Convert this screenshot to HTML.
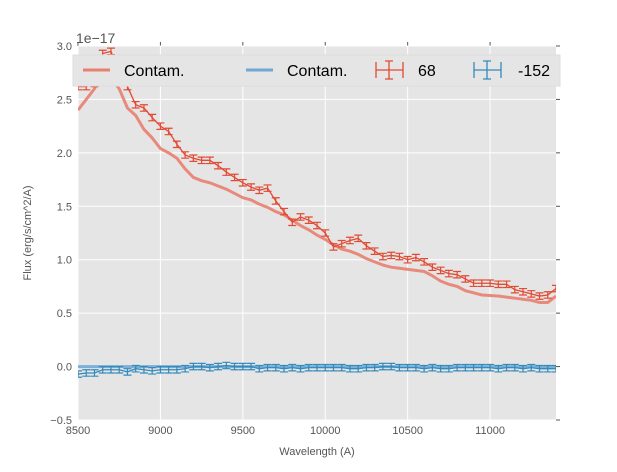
<!DOCTYPE html>
<html><head><meta charset="utf-8"><style>
body{margin:0;background:#fff;}
svg{font-family:"Liberation Sans","DejaVu Sans",sans-serif;}
</style></head><body>
<svg id="c" width="617" height="467"></svg>
<script>
const wave=[8500,8550,8600,8650,8700,8750,8800,8850,8900,8950,9000,9050,9100,9150,9200,9250,9300,9350,9400,9450,9500,9550,9600,9650,9700,9750,9800,9850,9900,9950,10000,10050,10100,10150,10200,10250,10300,10350,10400,10450,10500,10550,10600,10650,10700,10750,10800,10850,10900,10950,11000,11050,11100,11150,11200,11250,11300,11350,11400];
const flux68=[2.62,2.62,2.65,2.93,2.95,2.75,2.62,2.45,2.42,2.33,2.25,2.2,2.08,1.98,1.95,1.93,1.93,1.88,1.82,1.77,1.72,1.68,1.65,1.67,1.55,1.45,1.35,1.4,1.37,1.32,1.25,1.12,1.15,1.18,1.2,1.13,1.08,1.03,1.04,1.03,1.0,1.02,0.98,0.93,0.9,0.87,0.86,0.82,0.78,0.78,0.78,0.77,0.77,0.72,0.7,0.68,0.66,0.67,0.73];
const contam68=[2.4,2.5,2.6,2.75,2.7,2.6,2.42,2.35,2.22,2.14,2.04,2.0,1.95,1.85,1.77,1.74,1.72,1.69,1.66,1.62,1.58,1.56,1.52,1.49,1.45,1.42,1.37,1.32,1.28,1.23,1.19,1.14,1.1,1.08,1.05,1.01,0.98,0.95,0.93,0.92,0.91,0.9,0.89,0.85,0.8,0.77,0.75,0.71,0.69,0.67,0.665,0.66,0.65,0.64,0.63,0.62,0.6,0.6,0.66];
const flux152=[-0.07,-0.06,-0.06,-0.03,-0.03,-0.03,-0.05,-0.02,-0.03,-0.04,-0.03,-0.03,-0.03,-0.02,0.0,0.0,-0.01,0.0,0.01,0.0,0.0,0.0,-0.02,-0.01,-0.01,-0.02,-0.01,-0.02,-0.01,-0.01,-0.01,-0.01,-0.01,-0.02,-0.02,-0.01,-0.01,0.0,0.0,-0.01,-0.01,-0.01,-0.02,-0.01,-0.02,-0.02,-0.01,-0.01,-0.01,-0.01,-0.01,-0.02,-0.01,-0.01,-0.02,-0.01,-0.02,-0.02,-0.02];
const contam152=wave.map(()=>0);
const err=[0.03];
const xTicks=[8500,9000,9500,10000,10500,11000];
const yTicks=[-0.5,0,0.5,1,1.5,2,2.5,3];
const yLabels=["−0.5","0.0","0.5","1.0","1.5","2.0","2.5","3.0"];
const L=78,R=556,T=46,B=420;
const X=v=>L+(v-8500)/(11400-8500)*(R-L);
const Y=v=>T+(3-v)/3.5*(B-T);
const svg=document.getElementById('c');const NS='http://www.w3.org/2000/svg';
function mk(t,a,p){const e=document.createElementNS(NS,t);for(const k in a)e.setAttribute(k,a[k]);(p||svg).appendChild(e);return e;}
let e=mk('rect',{x:L,y:T,width:R-L,height:B-T,fill:'#e5e5e5'});


xTicks.forEach(v=>{mk('line',{x1:X(v),x2:X(v),y1:T,y2:B,stroke:'#fff','stroke-width':1});
 mk('line',{x1:X(v),x2:X(v),y1:T-4,y2:T,stroke:'#555'});
 const t=mk('text',{x:X(v),y:B+14,'text-anchor':'middle','font-size':11,fill:'#555'});t.textContent=v;
 
 });
yTicks.forEach((v,i)=>{mk('line',{x1:L,x2:R,y1:Y(v),y2:Y(v),stroke:'#fff','stroke-width':1});
 mk('line',{x1:R,x2:R+4,y1:Y(v),y2:Y(v),stroke:'#555'});
 const t=mk('text',{x:L-6,y:Y(v)+4,'text-anchor':'end','font-size':11,fill:'#555'});t.textContent=yLabels[i];
 
 });
const g=mk('g',{'clip-path':'url(#cp)'});
const cp=mk('clipPath',{id:'cp'});mk('rect',{x:L,y:T,width:R-L,height:B-T},cp);
function line(vals,col,w,op,name){const p=mk('polyline',{points:wave.map((w2,i)=>X(w2)+','+Y(vals[i])).join(' '),fill:'none',stroke:col,'stroke-width':w,'stroke-opacity':op},g);
 
 }
function ebars(vals,col,name){line(vals,col,1.3,1,name+'-line');
 wave.forEach((w2,i)=>{const x=X(w2),y1=Y(vals[i]+err[0]),y2=Y(vals[i]-err[0]);
  const b=mk('path',{d:`M${x},${y1}V${y2}M${x-4},${y1}H${x+4}M${x-4},${y2}H${x+4}`,stroke:col,'stroke-width':1.2,fill:'none'},g);
  
  });}
line(contam68,'#e8806f',3,0.9,'contam-68-line');
line(contam152,'#6fa8d0',3,0.9,'contam-152-line');
ebars(flux68,'#e24a33','spectrum-68');
ebars(flux152,'#348abd','spectrum-152');
// legend
const lg=mk('g',{});
mk('rect',{x:73,y:55,width:487,height:31,fill:'#e5e5e5',stroke:'#ddd'},lg);
mk('line',{x1:83,x2:110,y1:70,y2:70,stroke:'#e8806f','stroke-width':3},lg);
mk('line',{x1:246,x2:273,y1:70,y2:70,stroke:'#6fa8d0','stroke-width':3},lg);
[[376,'#e24a33'],[474,'#348abd']].forEach(([x,c])=>mk('path',{d:`M${x},70H${x+27}M${x+13},61V79M${x+9},61H${x+17}M${x+9},79H${x+17}M${x},62V78M${x+27},62V78`,stroke:c,'stroke-width':1.3,fill:'none'},lg));
[[124,'Contam.'],[287,'Contam.'],[418,'68'],[518,'-152']].forEach(([x,s])=>{const t=mk('text',{x:x,y:76,'font-size':16,fill:'#000'},lg);t.textContent=s;
 
 });
let t=mk('text',{x:76,y:43,'font-size':14,fill:'#555'});t.textContent='1e−17';

t=mk('text',{x:317,y:455,'text-anchor':'middle','font-size':11,fill:'#555'});t.textContent='Wavelength (A)';

t=mk('text',{x:0,y:0,'text-anchor':'middle','font-size':11,fill:'#555',transform:'translate(31,233) rotate(-90)'});t.textContent='Flux (erg/s/cm^2/A)';

</script>
</body></html>
